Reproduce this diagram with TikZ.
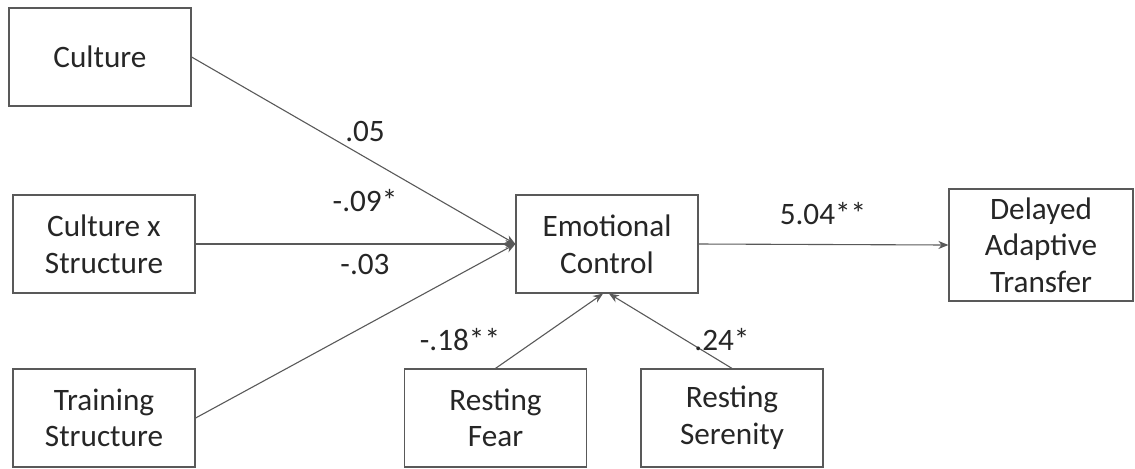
\documentclass[tikz,border=0pt]{standalone}
\usepackage{fontspec}
\setmainfont{Carlito}
\usetikzlibrary{arrows.meta}
\begin{document}
\begin{tikzpicture}[x=0.5pt,y=-0.5pt,
  box/.style={draw=black!65,line width=0.6pt,rectangle,minimum width=91pt,minimum height=49pt,align=center,inner sep=0pt,font=\fontsize{15.6}{18.3}\selectfont,text=black!85},
  lbl/.style={inner sep=0pt,font=\fontsize{15.6}{18}\selectfont,text=black!85},
  conn/.style={draw=black!65,line width=0.55pt,-{Stealth[length=5pt,width=4pt]}}]
\useasboundingbox (0,0) rectangle (1135,468);
\node[box] (cul) at (100,57) {Culture};
\node[box] (cxs) at (104,244) {Culture x\\Structure};
\node[box] (trs) at (104,418) {Training\\Structure};
\node[box] (ec) at (607,244) {Emotional\\Control};
\node[box,minimum width=92pt,minimum height=56pt] (dat) at (1041,245) {Delayed\\Adaptive\\Transfer};
\node[box] (rf) at (495.5,418) {Resting\\Fear};
\node[box] (rs) at (732,418) {Resting\\Serenity};
\draw[conn] (cul.east) -- (ec.west);
\draw[conn] (cxs.east) -- (ec.west);
\draw[conn] (trs.east) -- (ec.west);
\draw[conn] (ec.east) -- (dat.west);
\draw[conn] (rf.north) -- ([xshift=-2pt]ec.south);
\draw[conn] (rs.north) -- ([xshift=1pt]ec.south);
\node[lbl] (l1) at (365,131) {.05};
\node[lbl] (l2) at (365,201) {-.09*};
\node[lbl] (l3) at (365,264) {-.03};
\node[lbl] (l4) at (460,340) {-.18**};
\node[lbl] (l5) at (722,340) {.24*};
\node[lbl] (l6) at (823,214) {5.04**};
\end{tikzpicture}
\end{document}
